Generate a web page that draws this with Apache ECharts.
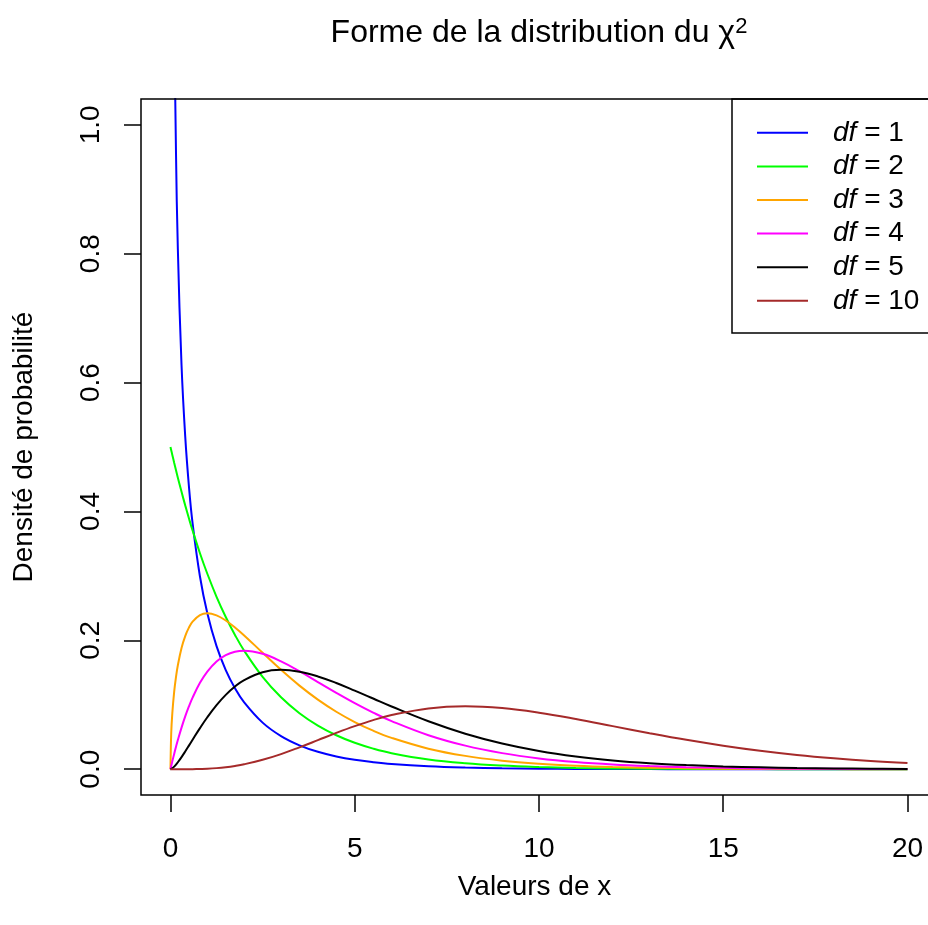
<!DOCTYPE html>
<html>
<head>
<meta charset="utf-8">
<script src="https://cdn.jsdelivr.net/npm/echarts@6/dist/echarts.min.js"></script>
<style>
  html, body { margin: 0; padding: 0; background: #fff; }
  #chart { width: 928px; height: 925px; }
</style>
</head>
<body>
<div id="chart"></div>
<script>
// valeurs (densités du chi-deux)
const xs = [0, 0.02, 0.05, 0.1, 0.15, 0.2, 0.3, 0.4, 0.5, 0.6, 0.8, 1, 1.25, 1.5, 1.75, 2, 2.5, 3, 3.5, 4,
  4.5, 5, 5.5, 6, 7, 8, 9, 10, 11, 12, 13, 14, 15, 16, 17, 18, 19, 20];

const df1 = [null, 2.793, 1.740, 1.200, 0.9556, 0.8072, 0.6269, 0.5164, 0.4394, 0.3815, 0.2990, 0.2420,
  0.1910, 0.1539, 0.1257, 0.1038, 0.0723, 0.0514, 0.0371, 0.0270, 0.0198, 0.0146, 0.0109, 0.0081,
  0.0046, 0.0026, 0.0015, 0.0009, 0.0005, 0.0003, 0.0002, 0.0001, 0.0001, 0, 0, 0, 0, 0];

const df2 = [0.5, 0.4950, 0.4877, 0.4756, 0.4639, 0.4524, 0.4304, 0.4094, 0.3894, 0.3704, 0.3352, 0.3033,
  0.2676, 0.2362, 0.2084, 0.1839, 0.1433, 0.1116, 0.0869, 0.0677, 0.0527, 0.0410, 0.0320, 0.0249,
  0.0151, 0.0092, 0.0056, 0.0034, 0.0020, 0.0012, 0.0008, 0.0005, 0.0003, 0.0002, 0.0001, 0.0001, 0, 0];

const df3 = [0, 0.0559, 0.0870, 0.1200, 0.1433, 0.1614, 0.1881, 0.2066, 0.2197, 0.2289, 0.2392, 0.2420,
  0.2387, 0.2308, 0.2200, 0.2076, 0.1807, 0.1542, 0.1297, 0.1080, 0.0892, 0.0732, 0.0598, 0.0487,
  0.0319, 0.0207, 0.0133, 0.0085, 0.0054, 0.0034, 0.0022, 0.0014, 0.0009, 0.0005, 0.0003, 0.0002, 0.0001, 0.0001];

const df4 = [0, 0.0050, 0.0122, 0.0238, 0.0348, 0.0452, 0.0646, 0.0819, 0.0974, 0.1111, 0.1341, 0.1516,
  0.1673, 0.1771, 0.1824, 0.1839, 0.1791, 0.1674, 0.1521, 0.1353, 0.1186, 0.1026, 0.0879, 0.0747,
  0.0528, 0.0366, 0.0250, 0.0168, 0.0112, 0.0074, 0.0049, 0.0032, 0.0021, 0.0013, 0.0009, 0.0006, 0.0004, 0.0002];

const df5 = [0, 0.0004, 0.0015, 0.0040, 0.0072, 0.0108, 0.0188, 0.0275, 0.0366, 0.0458, 0.0638, 0.0807,
  0.0995, 0.1154, 0.1283, 0.1384, 0.1506, 0.1542, 0.1513, 0.1440, 0.1338, 0.1220, 0.1097, 0.0973,
  0.0744, 0.0551, 0.0399, 0.0283, 0.0198, 0.0137, 0.0094, 0.0064, 0.0043, 0.0029, 0.0019, 0.0013, 0.0008, 0.0005];

const df10 = [0, 0, 0, 0, 0, 0, 0, 0, 0.00005, 0.0001, 0.0004, 0.0008,
  0.0017, 0.0031, 0.0051, 0.0077, 0.0146, 0.0235, 0.0340, 0.0451, 0.0563, 0.0668, 0.0762, 0.0840,
  0.0944, 0.0977, 0.0949, 0.0877, 0.0779, 0.0669, 0.0559, 0.0456, 0.0365, 0.0286, 0.0221, 0.0169, 0.0127, 0.0095];

const seriesNames = ['df = 1', 'df = 2', 'df = 3', 'df = 4', 'df = 5', 'df = 10'];
const seriesValues = [df1, df2, df3, df4, df5, df10];
const seriesColors = ['#0000ff', '#00ff00', '#ffa500', '#ff00ff', '#000000', '#a52a2a'];

const xTicks = [0, 5, 10, 15, 20];
const yTicks = [0, 0.2, 0.4, 0.6, 0.8, 1.0];

const FONT = '"Liberation Sans", Arial, Helvetica, sans-serif';

const chart = echarts.init(document.getElementById('chart'), null, { renderer: 'canvas' });

const series = seriesValues.map((ys, k) => ({
  name: seriesNames[k],
  type: 'line',
  data: xs.map((x, i) => [x, ys[i]]),
  symbol: 'none',
  smooth: 0.4,
  clip: true,
  lineStyle: { color: seriesColors[k], width: 2 },
  itemStyle: { color: seriesColors[k] },
  emphasis: { disabled: true }
}));

const option = {
  animation: false,
  backgroundColor: '#ffffff',
  textStyle: { fontFamily: FONT },
  grid: {
    left: 141, top: 99, right: 0, bottom: 130,
    show: false
  },
  xAxis: {
    type: 'value',
    // le cadre va jusqu'à 20.8, coupé par le bord droit de l'image
    min: -0.8, max: 20.557,
    name: 'Valeurs de x',
    nameLocation: 'middle',
    nameGap: 78,
    nameTextStyle: { fontSize: 28, color: '#000', fontFamily: FONT },
    axisLine: { show: false, onZero: false },
    axisTick: { show: true, length: 17, customValues: xTicks, lineStyle: { color: '#000', width: 1.5 } },
    axisLabel: { fontSize: 28, color: '#000', fontFamily: FONT, margin: 40, customValues: xTicks },
    splitLine: { show: false }
  },
  yAxis: {
    type: 'value',
    min: -0.04, max: 1.04,
    name: 'Densité de probabilité',
    nameLocation: 'middle',
    nameGap: 103,
    nameRotate: 90,
    nameTextStyle: { fontSize: 28, color: '#000', fontFamily: FONT },
    axisLine: { show: false, onZero: false },
    axisTick: { show: true, length: 17, customValues: yTicks, lineStyle: { color: '#000', width: 1.5 } },
    axisLabel: {
      fontSize: 28, color: '#000', fontFamily: FONT, margin: 36, rotate: 90,
      customValues: yTicks,
      formatter: v => v.toFixed(1)
    },
    splitLine: { show: false }
  },
  legend: {
    orient: 'vertical',
    left: 757, top: 116,
    padding: 0,
    itemGap: 0,
    itemWidth: 51,
    itemHeight: 2,
    icon: 'rect',
    selectedMode: false,
    data: seriesNames,
    formatter: name => '{i|df} = ' + name.split('= ')[1],
    textStyle: {
      fontSize: 28, color: '#000', fontFamily: FONT, lineHeight: 33.6,
      padding: [0, 0, 0, 20],
      rich: { i: { fontStyle: 'italic', fontSize: 28, fontFamily: FONT, lineHeight: 33.6 } }
    }
  },
  graphic: [
    {
      type: 'rect', z: -1,
      shape: { x: 732, y: 99, width: 220, height: 234 },
      style: { fill: '#fff', stroke: '#000', lineWidth: 1.5 }
    },
    {
      // cadre du graphique (bord droit hors image)
      type: 'rect', z: 10, silent: true,
      shape: { x: 141, y: 99, width: 800, height: 696 },
      style: { fill: 'none', stroke: '#000', lineWidth: 1.5 }
    },
    {
      type: 'text',
      x: 539, y: 33,
      style: {
        text: 'Forme de la distribution du {c|χ}{s|2}',
        fontSize: 32, fontFamily: FONT, fill: '#000',
        align: 'center', verticalAlign: 'middle',
        rich: {
          c: { fontSize: 32, fontFamily: FONT },
          s: { fontSize: 22, fontFamily: FONT, padding: [0, 0, 12, 0] }
        }
      }
    }
  ],
  series: series
};

chart.setOption(option);
</script>
</body>
</html>
